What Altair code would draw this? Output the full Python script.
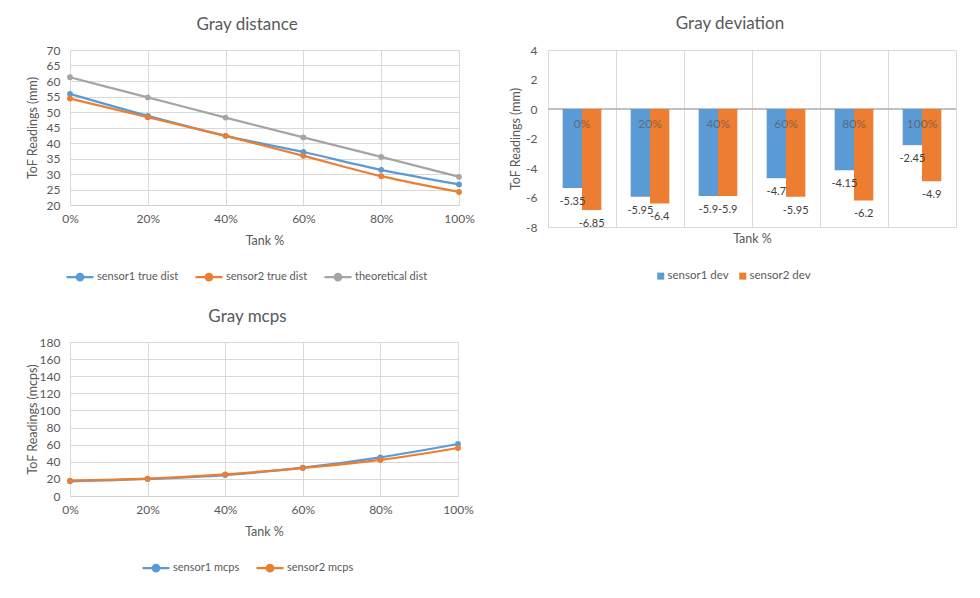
import altair as alt
import pandas as pd

# ---------------- data ----------------
tank = ["0%", "20%", "40%", "60%", "80%", "100%"]

s1_dist = [55.85, 48.75, 42.3, 37.1, 31.35, 26.65]
s2_dist = [54.35, 48.3, 42.3, 35.85, 29.3, 24.2]
theo_dist = [61.2, 54.7, 48.2, 41.8, 35.5, 29.1]

s1_dev = [-5.35, -5.95, -5.9, -4.7, -4.15, -2.45]
s2_dev = [-6.85, -6.4, -5.9, -5.95, -6.2, -4.9]

s1_mcps = [17.1, 19.9, 24.5, 33.1, 45.2, 60.8]
s2_mcps = [17.9, 20.3, 25.3, 32.7, 42.1, 56.1]

dist_names = ["sensor1 true dist", "sensor2 true dist", "theoretical dist"]
dev_names = ["sensor1 dev", "sensor2 dev"]
mcps_names = ["sensor1 mcps", "sensor2 mcps"]

# ---------------- style ----------------
BLUE, ORANGE, GRAY = "#5B9BD5", "#ED7D31", "#A5A5A5"
TXT = "#595959"
GRID = "#D9D9D9"
FONT = "Lato"
LINE_SYM = "M-1,0L1,0M-0.24,0A0.24,0.24,0,1,0,0.24,0A0.24,0.24,0,1,0,-0.24,0Z"


def long_df(names, series):
    rows = []
    for n, vals in zip(names, series):
        for t, v in zip(tank, vals):
            rows.append({"Tank": t, "series": n, "value": v, "label": f"{v:g}"})
    return pd.DataFrame(rows)


dist_df = long_df(dist_names, [s1_dist, s2_dist, theo_dist])
dev_df = long_df(dev_names, [s1_dev, s2_dev])
mcps_df = long_df(mcps_names, [s1_mcps, s2_mcps])
cat_df = pd.DataFrame({"Tank": tank})


def line_chart(df, names, colors, ymin, ymax, ystep, ytitle, title, w, h,
               title_dx, legend_x, legend_y):
    cscale = alt.Scale(domain=names, range=colors)
    x = alt.X("Tank:O", sort=tank, scale=alt.Scale(type="point", padding=0),
              axis=alt.Axis(title="Tank %", labelAngle=0, grid=True,
                            labelPadding=8, titlePadding=10, domain=True))
    y = alt.Y("value:Q", scale=alt.Scale(domain=[ymin, ymax], nice=False, zero=False),
              axis=alt.Axis(title=ytitle, values=list(range(ymin, ymax + 1, ystep)),
                            domain=False, labelPadding=10, titleX=-31,
                            labelOverlap=False))
    leg = alt.Legend(title=None, orient="none", legendX=legend_x, legendY=legend_y,
                     direction="horizontal", symbolType=LINE_SYM, symbolSize=729,
                     symbolStrokeWidth=2.25, labelOffset=2, columnPadding=12,
                     labelFontSize=11)
    color = alt.Color("series:N", scale=cscale, legend=leg)
    line = alt.Chart(df).mark_line(interpolate="monotone", strokeWidth=2.25).encode(
        x=x, y=y, color=color)
    pts = alt.Chart(df).mark_point(filled=True, size=34, opacity=1).encode(
        x=x, y=y, color=color)
    return alt.layer(line, pts).properties(
        width=w, height=h,
        title=alt.TitleParams(title, dx=title_dx, frame="group", offset=10))


c1 = line_chart(dist_df, dist_names, [BLUE, ORANGE, GRAY], 20, 70, 5,
                "ToF Readings (mm)", "Gray distance", 389, 155, -17.5, -5, 212)
c3 = line_chart(mcps_df, mcps_names, [BLUE, ORANGE], 0, 180, 20,
                "ToF Readings (mcps)", "Gray mcps", 388, 154, -16.5, 71, 211)

# ---------------- deviation bars ----------------
dscale = alt.Scale(domain=dev_names, range=[BLUE, ORANGE])
bx = alt.X("Tank:N", sort=tank, scale=alt.Scale(paddingInner=0, paddingOuter=0),
           axis=alt.Axis(title="Tank %", labels=False, grid=True, bandPosition=0,
                         domain=False, titlePadding=5))
bxo = alt.XOffset("series:N", sort=dev_names,
                  scale=alt.Scale(paddingOuter=0.76, paddingInner=0))
yscale = alt.Scale(domain=[-8, 4], nice=False)
yaxis = alt.Axis(title="ToF Readings (mm)", values=[-8, -6, -4, -2, 0, 2, 4],
                 labelExpr="'' + datum.value", domain=False, labelOverlap=False,
                 labelPadding=11, titleX=-26)
by = alt.Y("value:Q", scale=yscale, axis=yaxis)
y0 = alt.YDatum(0, scale=yscale, axis=yaxis)

zero = alt.Chart(cat_df).mark_rule(color="#BFBFBF", strokeWidth=1).encode(y=y0)
bars = alt.Chart(dev_df).mark_bar().encode(
    x=bx, xOffset=bxo, y=by,
    color=alt.Color("series:N", scale=dscale,
                    legend=alt.Legend(title=None, orient="none", legendX=107, legendY=220,
                                      direction="horizontal", symbolType="square",
                                      symbolSize=49, labelOffset=1, columnPadding=8,
                                      labelFontSize=11.5)))
vals = alt.Chart(dev_df).mark_text(dy=14, fontSize=11, color="#404040").encode(
    x=bx, xOffset=bxo, y=by, text="label:N")
cats = alt.Chart(cat_df).mark_text(dy=15, fontSize=12, color=TXT, opacity=0.7).encode(
    x=bx, y=y0, text="Tank:N")

c2 = alt.layer(zero, bars, vals, cats).properties(
    width=408, height=177,
    title=alt.TitleParams("Gray deviation", dx=-22, frame="group", offset=11))

chart = alt.concat(
    c1, c2, c3, columns=2, bounds="flush",
    spacing={"row": 115, "column": 89},
).resolve_scale(
    color="independent", x="independent", y="independent",
).resolve_legend(
    color="independent",
).properties(
    padding={"left": 25, "top": 14, "right": 0, "bottom": 0},
    background="white",
).configure(font=FONT).configure_axis(
    labelFont=FONT, labelFontSize=12, labelColor=TXT,
    titleFont=FONT, titleFontSize=12.5, titleColor=TXT, titleFontWeight="normal",
    ticks=False, gridColor=GRID, domainColor="#CFCFCF",
).configure_view(stroke=GRID).configure_title(
    font=FONT, fontSize=17, color=TXT, fontWeight="normal", anchor="middle",
).configure_legend(labelFont=FONT, labelFontSize=11, labelColor=TXT)

chart.save("out.html", embed_options={"renderer": "svg", "actions": False})
